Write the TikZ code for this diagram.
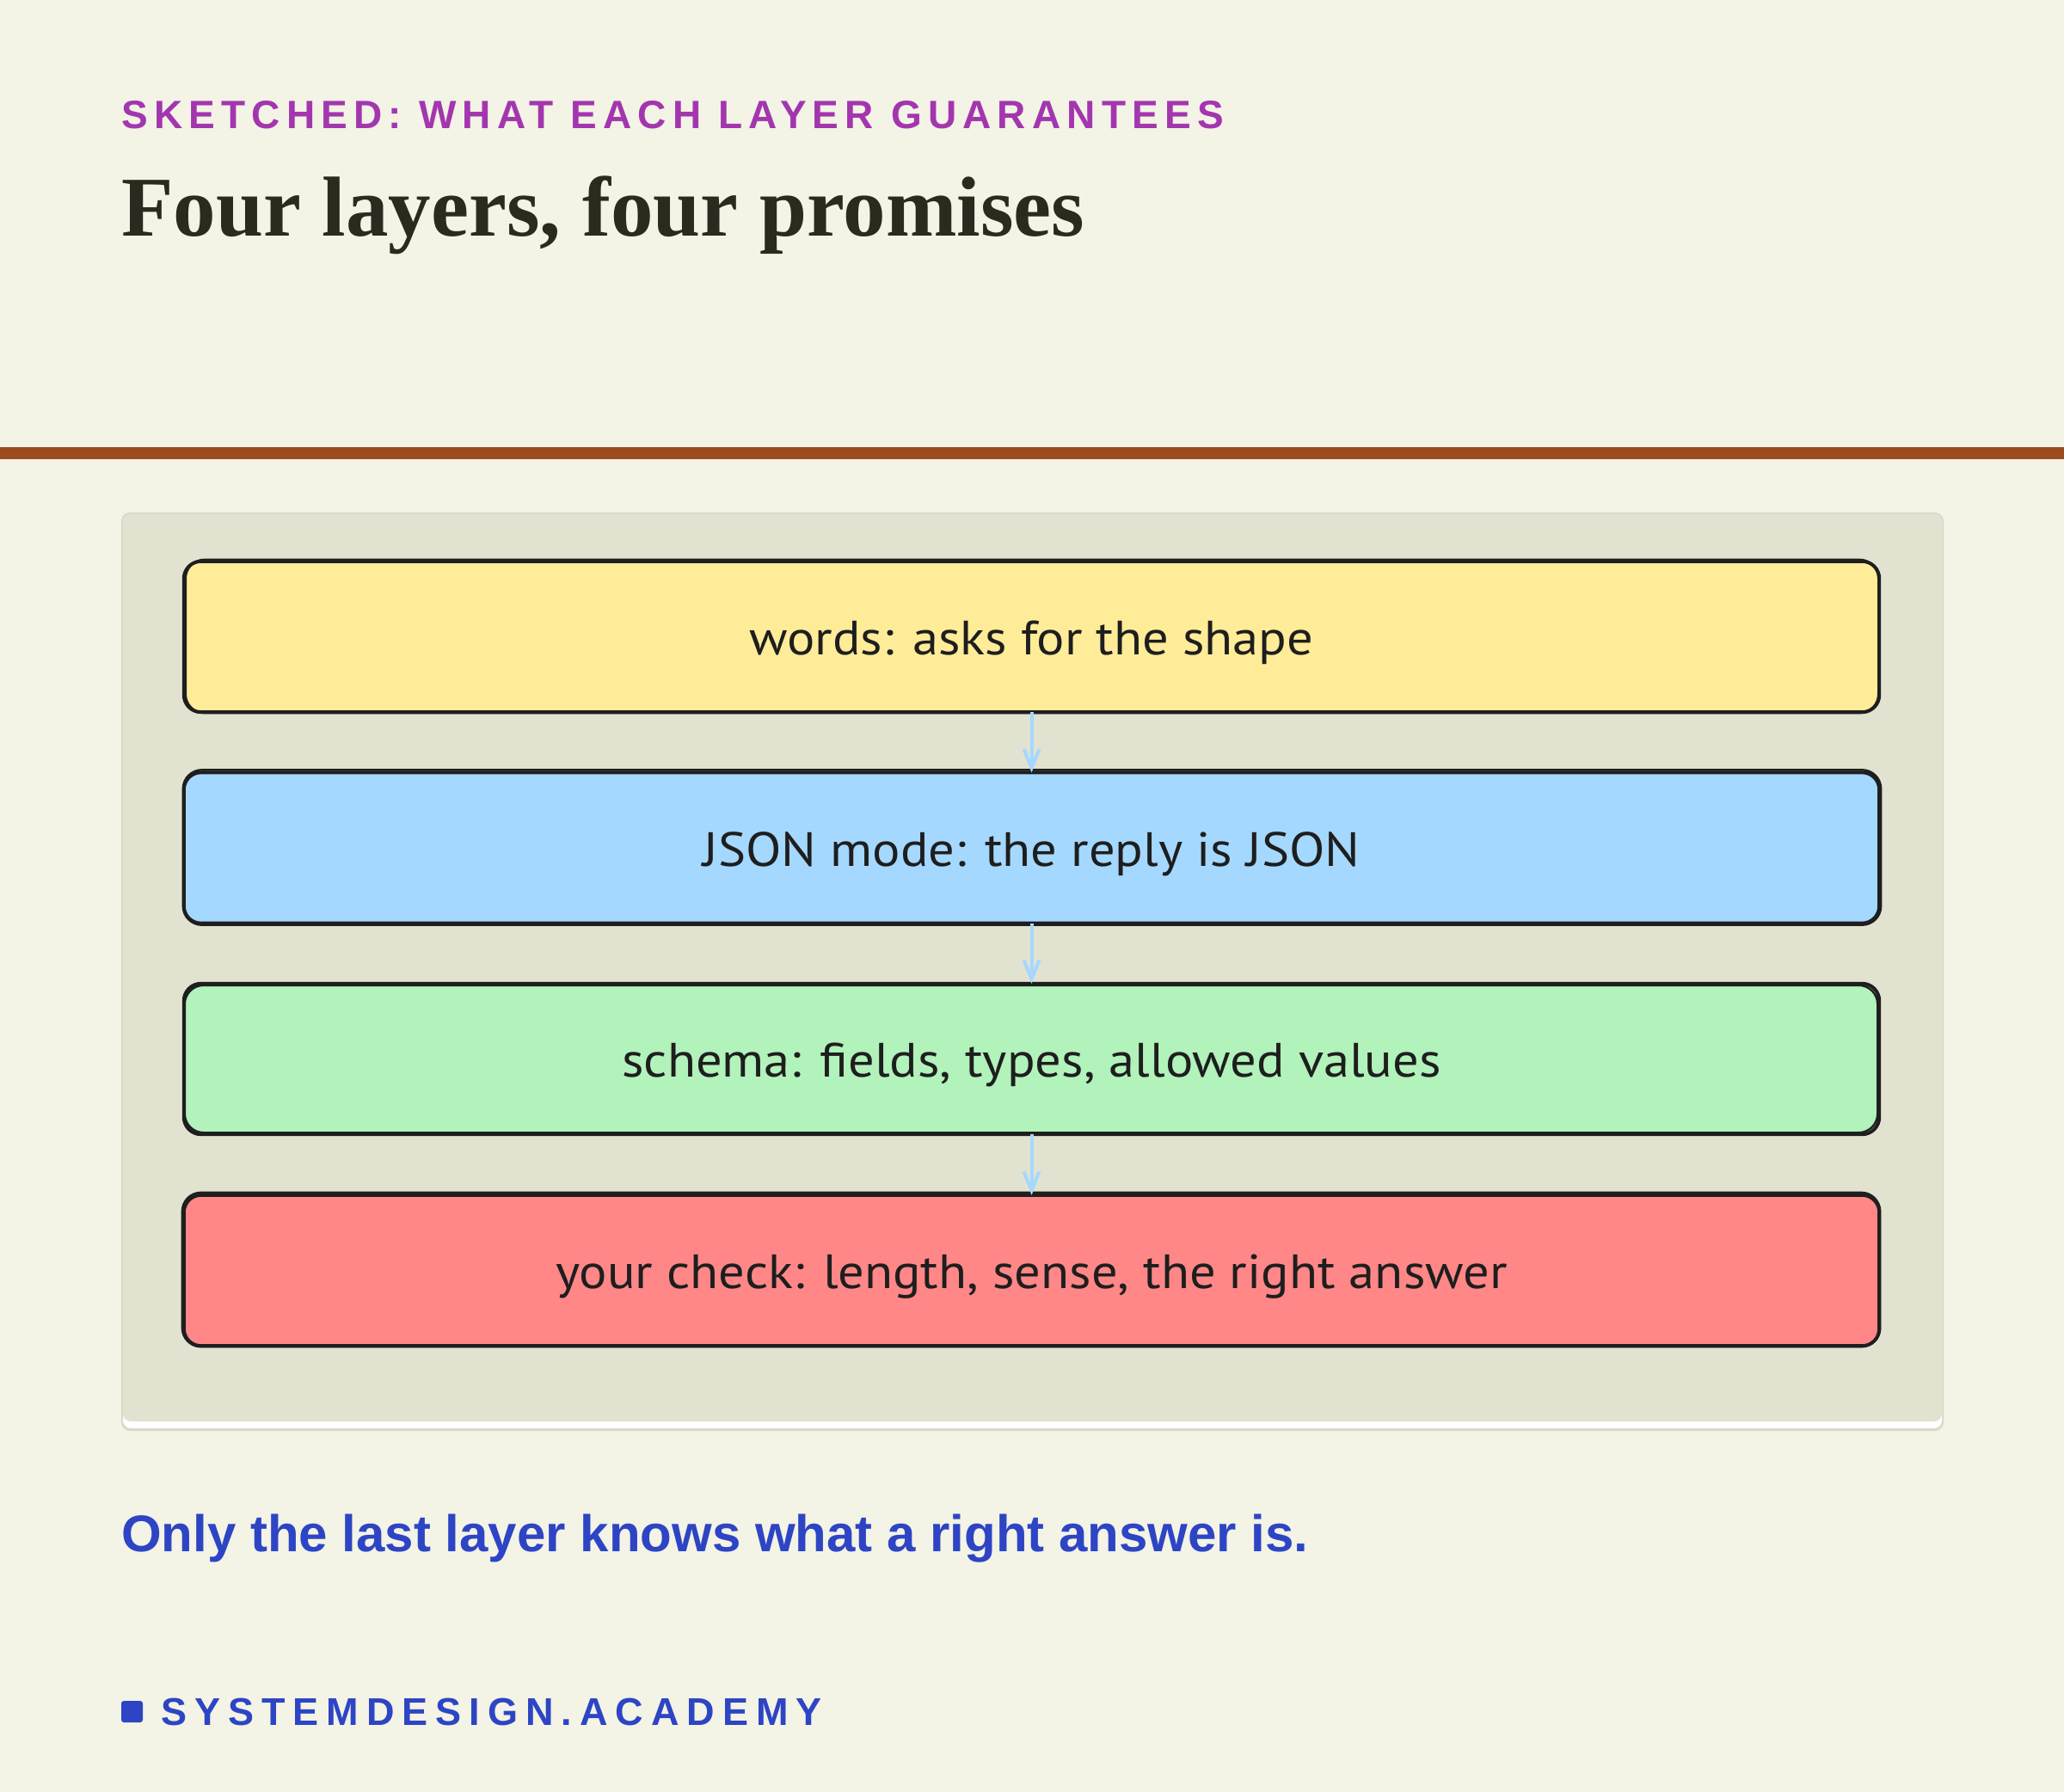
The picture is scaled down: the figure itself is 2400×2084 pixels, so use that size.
\documentclass[tikz,border=0pt]{standalone}
\usepackage{fontspec}
\setmainfont{Liberation Serif}
\newfontfamily\labelsans{Liberation Sans}
\newfontfamily\trackedA[LetterSpace=15.7]{Liberation Sans}
\newfontfamily\trackedB[LetterSpace=20]{Liberation Sans}
\newfontfamily\handfont[FakeStretch=1.08]{PT Sans}
\usetikzlibrary{arrows.meta}
\definecolor{bgc}{HTML}{F3F3E6}
\definecolor{panelc}{HTML}{E2E2D1}
\definecolor{panelborder}{HTML}{D9D9CB}
\definecolor{brownc}{HTML}{9B4B1D}
\definecolor{titlec}{HTML}{2A2A1F}
\definecolor{purplec}{HTML}{A336AE}
\definecolor{bluec}{HTML}{2D45C4}
\definecolor{inkc}{HTML}{1E1E1E}
\definecolor{yellowc}{HTML}{FFEC99}
\definecolor{skyc}{HTML}{A5D8FF}
\definecolor{greenc}{HTML}{B2F2BB}
\definecolor{redc}{HTML}{FF8787}
\definecolor{arrowc}{HTML}{A5D8FF}
\begin{document}
\begin{tikzpicture}[x=1pt,y=-1pt,
  layer/.style={minimum width=1971pt, minimum height=175pt, inner sep=0pt,
    text height=50pt, text depth=8pt,
    rounded corners=20pt, text=inkc, font=\handfont\fontsize{56}{64}\selectfont},
  sketchA/.style={draw=inkc, line width=4pt, rounded corners=20pt},
  sketchB/.style={draw=inkc, line width=2.4pt, rounded corners=22pt},
  flow/.style={draw=arrowc, line width=4pt, -{Straight Barb[length=22pt,width=18pt]}},
  plain/.style={anchor=base west, inner sep=0pt}]
\fill[bgc] (0,0) rectangle (2400,2084);
\useasboundingbox (0,0) rectangle (2400,2084);

% header
\node[plain, text=purplec, font=\trackedA\bfseries\fontsize{46}{50}\selectfont] (kicker) at (141,150) {SKETCHED: WHAT EACH LAYER GUARANTEES};
\node[plain, text=titlec, font=\bfseries\fontsize{99}{110}\selectfont] (title) at (141,274) {Four layers, four promises};
\fill[brownc] (0,520) rectangle (2400,534);

% panel
\fill[panelborder, rounded corners=10pt] (141,596) rectangle (2260,1664);
\fill[white, rounded corners=9pt] (143,598) rectangle (2258,1661);
\fill[panelc, rounded corners=9pt] (143,598) rectangle (2258,1653);

% layers
\node[layer, fill=yellowc] (words) at (1199.5,740.5) {words: asks for the shape};
\node[layer, fill=skyc] (json) at (1199.5,986) {JSON mode: the reply is JSON};
\node[layer, fill=greenc] (schema) at (1199.5,1231.5) {schema: fields, types, allowed values};
\node[layer, fill=redc] (check) at (1199.5,1477.5) {your check: length, sense, the right answer};

\foreach \n/\ax/\ay/\bx/\by in {words/2/-2/-1/1, json/-1/-3/2/2, schema/1/2/-2/-2, check/-2/-3/1/1}{
  \draw[sketchA] (\n.north west) rectangle (\n.south east);
  \draw[sketchB] ([shift={(\ax,\ay)}]\n.north west) rectangle ([shift={(\bx,\by)}]\n.south east);
}

\draw[flow] (words.south) -- (json.north);
\draw[flow] (json.south) -- (schema.north);
\draw[flow] (schema.south) -- (check.north);

% footer
\node[plain, text=bluec, font=\labelsans\bfseries\fontsize{60}{70}\selectfont] (takeaway) at (141,1804) {Only the last layer knows what a right answer is.};
\node[fill=bluec, rounded corners=3pt, minimum size=25pt, inner sep=0pt] (mark) at (153.5,1990.5) {};
\node[plain, text=bluec, font=\trackedB\bfseries\fontsize{45}{50}\selectfont] (brand) at (187,2006) {SYSTEMDESIGN.ACADEMY};
\end{tikzpicture}
\end{document}
